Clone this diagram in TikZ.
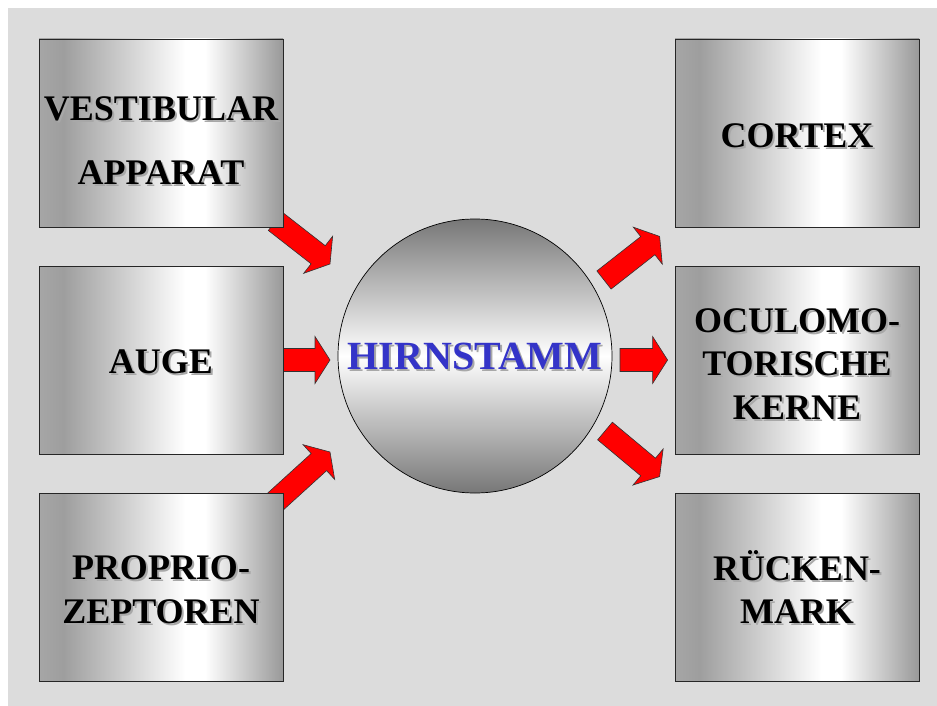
\documentclass[tikz,border=0pt]{standalone}
\usepackage{fontspec}
\setmainfont{Liberation Serif}
\usetikzlibrary{calc}
\definecolor{bggray}{HTML}{DCDCDC}
\definecolor{boxL}{HTML}{A6A6A6}
\definecolor{boxD}{HTML}{9E9E9E}
\definecolor{boxR}{HTML}{999999}
\definecolor{circD}{HTML}{777777}
\definecolor{hblue}{HTML}{3434C8}
\definecolor{shadowgray}{HTML}{A8A8A8}
\definecolor{arrowred}{HTML}{FF0000}
\pgfdeclarehorizontalshading{boxshade}{100bp}{color(0bp)=(boxL); color(25bp)=(boxL); color(30bp)=(boxD); color(55bp)=(white); color(59bp)=(white); color(75bp)=(boxR); color(100bp)=(boxR)}
\pgfdeclarelayer{back}
\pgfdeclarelayer{arrows}
\pgfsetlayers{back,arrows,main}
\newcommand{\shd}[1]{\leavevmode\rlap{\kern2pt\raisebox{-2pt}{\textcolor{shadowgray}{#1}}}#1}
\newcommand{\topstrut}{\rule{0pt}{32pt}}
\newcommand{\blockarrow}[2]{%
  \coordinate (tmpH) at ($(#2)!15pt!(#1)$);
  \draw[redarrow] ($(#1)!11.5pt!90:(#2)$) -- ($(tmpH)!11.5pt!-90:(#1)$) -- ($(tmpH)!23.5pt!-90:(#1)$) -- (#2) -- ($(tmpH)!23.5pt!90:(#1)$) -- ($(tmpH)!11.5pt!90:(#1)$) -- ($(#1)!11.5pt!-90:(#2)$) -- cycle;
}
\begin{document}
\begin{tikzpicture}[x=1pt,y=-1pt,
  graybox/.style={rectangle, draw=black!85, line width=0.8pt, shading=boxshade,
    minimum width=244pt, minimum height=188pt, inner sep=0pt, align=center,
    font=\fontsize{36pt}{44pt}\selectfont\bfseries},
  hub/.style={circle, draw=black, line width=0.7pt, top color=circD, bottom color=circD, middle color=white,
    minimum size=274pt, inner sep=0pt, text=hblue, font=\fontsize{40pt}{48pt}\selectfont\bfseries},
  redarrow/.style={fill=arrowred, draw=black!80, line width=0.6pt, line join=miter}]
\useasboundingbox (0,0) rectangle (937,706);
\begin{pgfonlayer}{back}
  \fill[white] (0,0) rectangle (937,706);
  \fill[bggray] (8,8) rectangle (937,706);
\end{pgfonlayer}
% left column
\node[graybox] (vest) at (161,133) {\rule{0pt}{40pt}\shd{VESTIBULAR}\\[20pt]\shd{APPARAT}};
\node[graybox] (auge) at (161,360) {\rule{0pt}{29pt}\shd{AUGE}};
\node[graybox] (prop) at (161,587) {\topstrut\shd{PROPRIO-}\\\shd{ZEPTOREN}};
% right column
\node[graybox] (cort) at (797,133) {\topstrut\shd{CORTEX}};
\node[graybox] (ocul) at (797,360) {\rule{0pt}{34pt}\shd{OCULOMO-}\\[-1.5pt]\shd{TORISCHE}\\\shd{KERNE}};
\node[graybox] (ruck) at (797,587) {\topstrut\shd{RÜCKEN-}\\[-1pt]\shd{MARK}};
% hub
\node[hub] (hirn) at (475,356) {\rule{0pt}{30pt}\shd{HIRNSTAMM}};
% arrow end points
\coordinate (s1) at ($(vest.south east)+(-8,-6)$);
\coordinate (e1) at ($(hirn.center)+(-145,-92)$);
\coordinate (s2) at ($(auge.east)+(-3,0)$);
\coordinate (e2) at ($(hirn.center)+(-145,4)$);
\coordinate (s3) at ($(prop.north east)+(-8,9)$);
\coordinate (e3) at ($(hirn.center)+(-145,96)$);
\coordinate (s4) at ($(hirn.center)+(129,-76)$);
\coordinate (e4) at ($(cort.south west)+(-15,9)$);
\coordinate (s5) at ($(hirn.center)+(145,4)$);
\coordinate (e5) at ($(ocul.west)+(-7,0)$);
\coordinate (s6) at ($(hirn.center)+(130,75)$);
\coordinate (e6) at ($(ruck.north west)+(-15,-16)$);
\begin{pgfonlayer}{arrows}
  \blockarrow{s1}{e1}
  \blockarrow{s2}{e2}
  \blockarrow{s3}{e3}
  \blockarrow{s4}{e4}
  \blockarrow{s5}{e5}
  \blockarrow{s6}{e6}
\end{pgfonlayer}
\end{tikzpicture}
\end{document}
